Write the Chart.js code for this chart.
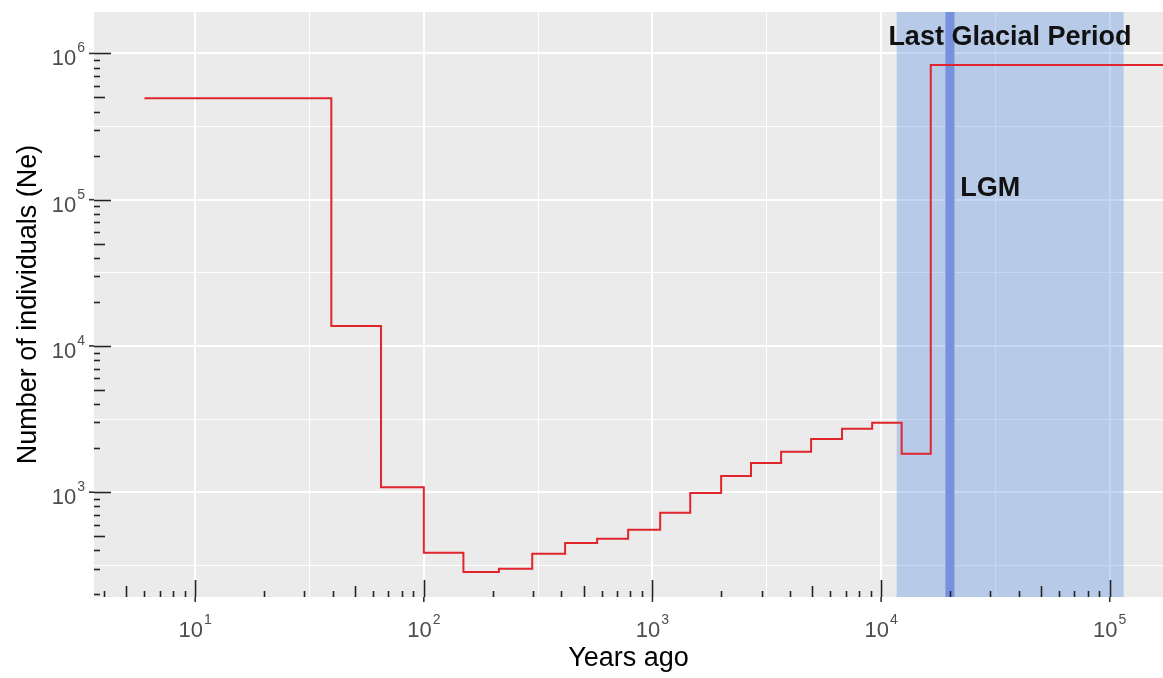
<!DOCTYPE html>
<html>
<head>
<meta charset="utf-8">
<title>Effective population size through time</title>
<script src="https://cdn.jsdelivr.net/npm/chart.js@4.4.1/dist/chart.umd.min.js"></script>
<style>
  body { margin: 0; background: #fff; }
  #wrap { width: 1163px; height: 678px; }
</style>
</head>
<body>
<div id="wrap"><canvas id="neChart" width="1163" height="678"></canvas></div>
<script>
// start of each step (years ago) and the Ne level that holds from there on
const yearsAgo = [6, 39.4, 65, 100, 149, 213, 298, 415, 573, 783, 1081, 1463, 1997, 2698, 3653, 4942, 6748, 9140, 12300, 16490, 175000];
const ne = [493000, 13700, 1082, 386, 285, 299, 379, 450, 480, 553, 722, 989, 1292, 1585, 1887, 2314, 2710, 2978, 1828, 833000, 833000];

const xTicks = [10, 100, 1000, 10000, 100000];
const xTickExp = ['1', '2', '3', '4', '5'];
const yTicks = [1000, 10000, 100000, 1000000];
const yTickExp = ['3', '4', '5', '6'];

const glacialPeriod = [11700, 115000];
const lgmYear = 20000;
const glacialLabel = { text: 'Last Glacial Period', x: 36600, y: 1.29e6 };
const lgmLabel = { text: 'LGM', x: 22200, y: 1.2e5 };

const FONT = '"Liberation Sans", Arial, sans-serif';

const isMajor = v => Math.abs(Math.log10(v) - Math.round(Math.log10(v))) < 1e-6;

// majors plus half-decade minors, like ggplot's log10 grid
function gridTicks(majors) {
  return (scale) => {
    const vals = [];
    majors.forEach(m => { vals.push(m / Math.sqrt(10), m, m * Math.sqrt(10)); });
    scale.ticks = [...new Set(vals)]
      .filter(v => v >= scale.min && v <= scale.max)
      .sort((a, b) => a - b)
      .map(v => ({ value: v }));
  };
}

function drawPower(ctx, x, y, exp, anchor) {
  ctx.font = '22px ' + FONT;
  const wBase = ctx.measureText('10').width;
  ctx.font = '14px ' + FONT;
  const wExp = ctx.measureText(exp).width;
  const total = wBase + 1 + wExp;
  const x0 = anchor === 'right' ? x - total : x - total / 2;
  ctx.textAlign = 'left';
  ctx.textBaseline = 'alphabetic';
  ctx.font = '22px ' + FONT;
  ctx.fillText('10', x0, y);
  ctx.font = '14px ' + FONT;
  ctx.fillText(exp, x0 + wBase + 1, y - 13);
}

const panelPlugin = {
  id: 'panel',
  beforeDraw(chart) {
    const { ctx, chartArea: a } = chart;
    ctx.save();
    ctx.fillStyle = '#EBEBEB';
    ctx.fillRect(a.left, a.top, a.right - a.left, a.bottom - a.top);
    ctx.restore();
  },
  beforeDatasetsDraw(chart) {
    const { ctx, chartArea: a, scales: { x } } = chart;
    ctx.save();
    ctx.beginPath();
    ctx.rect(a.left, a.top, a.right - a.left, a.bottom - a.top);
    ctx.clip();
    const x0 = x.getPixelForValue(glacialPeriod[0]);
    const x1 = x.getPixelForValue(glacialPeriod[1]);
    ctx.fillStyle = 'rgba(100, 150, 225, 0.38)';
    ctx.fillRect(x0, a.top, x1 - x0, a.bottom - a.top);
    ctx.strokeStyle = '#7891dd';
    ctx.lineWidth = 9;
    const xl = x.getPixelForValue(lgmYear);
    ctx.beginPath();
    ctx.moveTo(xl, a.top);
    ctx.lineTo(xl, a.bottom);
    ctx.stroke();
    ctx.restore();
  },
  afterDatasetsDraw(chart) {
    const { ctx, chartArea: a, scales: { x, y } } = chart;
    ctx.save();

    // log ticks inside the panel (bottom and left)
    ctx.strokeStyle = '#222';
    ctx.lineWidth = 1.6;
    const tickLen = k => (k === 1 ? 17 : k === 5 ? 11 : 6);
    for (let n = Math.floor(Math.log10(x.min)); n <= Math.ceil(Math.log10(x.max)); n++) {
      for (let k = 1; k <= 9; k++) {
        const v = k * Math.pow(10, n);
        if (v < x.min || v > x.max) continue;
        const px = Math.round(x.getPixelForValue(v)) + 0.5;
        ctx.beginPath();
        ctx.moveTo(px, a.bottom);
        ctx.lineTo(px, a.bottom - tickLen(k));
        ctx.stroke();
      }
    }
    for (let n = Math.floor(Math.log10(y.min)); n <= Math.ceil(Math.log10(y.max)); n++) {
      for (let k = 1; k <= 9; k++) {
        const v = k * Math.pow(10, n);
        if (v < y.min || v > y.max) continue;
        const py = Math.round(y.getPixelForValue(v)) + 0.5;
        ctx.beginPath();
        ctx.moveTo(a.left, py);
        ctx.lineTo(a.left + tickLen(k), py);
        ctx.stroke();
      }
    }

    // axis ticks outside + labels
    ctx.strokeStyle = '#333';
    ctx.fillStyle = '#4D4D4D';
    xTicks.forEach((v, i) => {
      const px = x.getPixelForValue(v);
      ctx.beginPath();
      ctx.moveTo(px, a.bottom);
      ctx.lineTo(px, a.bottom + 5);
      ctx.stroke();
      drawPower(ctx, px, a.bottom + 40, xTickExp[i], 'center');
    });
    yTicks.forEach((v, i) => {
      const py = y.getPixelForValue(v);
      ctx.beginPath();
      ctx.moveTo(a.left - 5, py);
      ctx.lineTo(a.left, py);
      ctx.stroke();
      drawPower(ctx, a.left - 9, py + 12, yTickExp[i], 'right');
    });

    // annotations
    ctx.fillStyle = '#111';
    ctx.font = 'bold 27px ' + FONT;
    ctx.textBaseline = 'middle';
    ctx.textAlign = 'center';
    ctx.fillText(glacialLabel.text, x.getPixelForValue(glacialLabel.x), y.getPixelForValue(glacialLabel.y));
    ctx.textAlign = 'left';
    ctx.fillText(lgmLabel.text, x.getPixelForValue(lgmLabel.x), y.getPixelForValue(lgmLabel.y));
    ctx.restore();
  }
};

const gridOpts = {
  color: '#FFFFFF',
  lineWidth: ctx => (ctx.tick && isMajor(ctx.tick.value) ? 2 : 1),
  drawTicks: false
};

new Chart(document.getElementById('neChart'), {
  type: 'line',
  data: {
    datasets: [{
      data: yearsAgo.map((yr, i) => ({ x: yr, y: ne[i] })),
      stepped: true,
      borderColor: '#e0262c',
      borderWidth: 2,
      pointRadius: 0,
      fill: false
    }]
  },
  options: {
    responsive: false,
    animation: false,
    devicePixelRatio: 1,
    layout: { padding: { top: 12, right: 0, bottom: 0, left: 0 } },
    plugins: { legend: { display: false }, tooltip: { enabled: false } },
    scales: {
      x: {
        type: 'logarithmic',
        min: 3.61,
        max: 171000,
        afterBuildTicks: gridTicks(xTicks),
        afterFit: s => { s.height = 81; },
        ticks: { display: false },
        grid: gridOpts,
        border: { display: false },
        title: {
          display: true,
          text: 'Years ago',
          color: '#000',
          font: { family: FONT, size: 27 },
          padding: { top: 0, bottom: 3 }
        }
      },
      y: {
        type: 'logarithmic',
        min: 192,
        max: 1.92e6,
        afterBuildTicks: gridTicks(yTicks),
        afterFit: s => { s.width = 94; },
        ticks: { display: false },
        grid: gridOpts,
        border: { display: false },
        title: {
          display: true,
          text: 'Number of individuals (Ne)',
          color: '#000',
          font: { family: FONT, size: 27 },
          padding: { top: 12, bottom: 0 }
        }
      }
    }
  },
  plugins: [panelPlugin]
});
</script>
</body>
</html>
